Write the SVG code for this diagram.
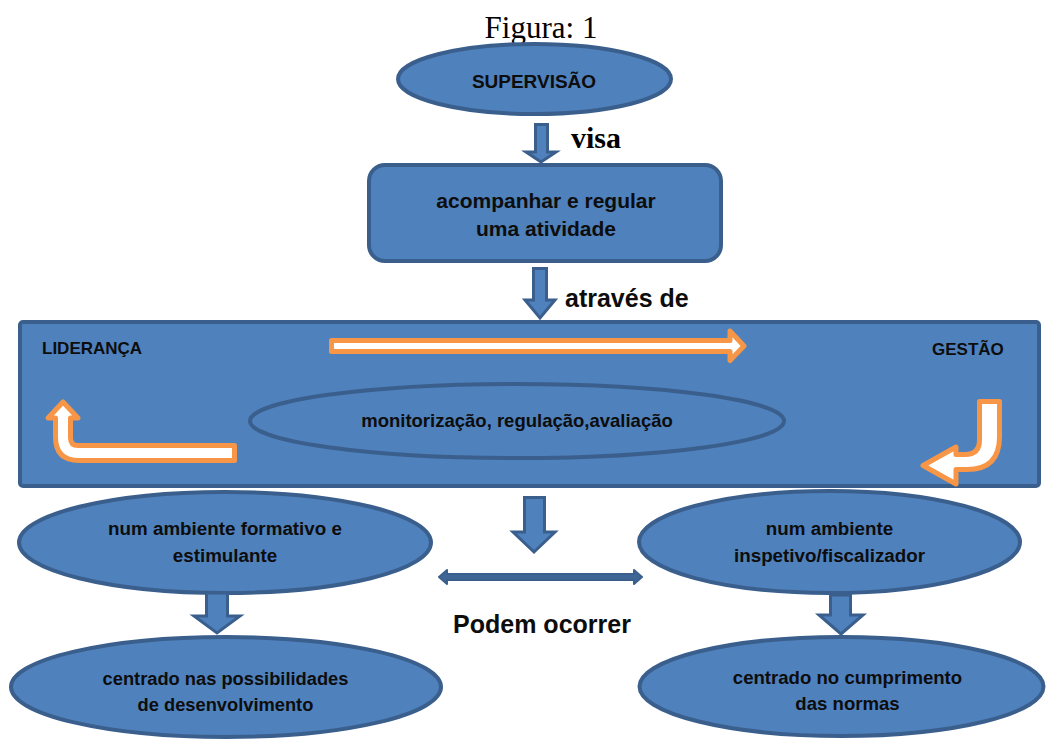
<svg xmlns="http://www.w3.org/2000/svg" width="1046" height="740" viewBox="0 0 1046 740">
<style>
.shape{fill:#4f81bd;stroke:#3a5f8d;stroke-width:4}
.arr{fill:#4f81bd;stroke:#3a5f8d;stroke-width:3;stroke-linejoin:miter}
.oarr{fill:#ffffff;stroke:#f79646;stroke-width:5;stroke-linejoin:round}
.t{font-family:"Liberation Sans",Arial,sans-serif;font-weight:bold;fill:#0d0d0d;text-anchor:middle}
.serif{font-family:"Liberation Serif","Times New Roman",serif;fill:#000}
</style>
<rect width="1046" height="740" fill="#ffffff"/>
<text class="serif" x="541" y="38" font-size="31" text-anchor="middle">Figura: 1</text>

<g id="supervisao">
<ellipse class="shape" cx="534.5" cy="79" rx="136.5" ry="35"/>
<text class="t" x="534" y="88" font-size="19">SUPERVISÃO</text>
</g>

<g id="acompanhar">
<rect class="shape" x="369" y="165" width="352" height="96" rx="16"/>
<text class="t" x="546" y="208" font-size="21">acompanhar e regular</text>
<text class="t" x="546" y="236" font-size="21">uma atividade</text>
</g>

<g id="lideranca-gestao">
<rect class="shape" x="20" y="322" width="1019" height="164" rx="3"/>
<text class="t" x="42" y="354" font-size="17" style="text-anchor:start">LIDERANÇA</text>
<text class="t" x="932" y="355" font-size="17" style="text-anchor:start">GESTÃO</text>
</g>

<g id="monitorizacao">
<ellipse class="shape" cx="517" cy="421" rx="267" ry="37"/>
<text class="t" x="517" y="427" font-size="18.5">monitorização, regulação,avaliação</text>
</g>

<g id="ambiente-formativo">
<ellipse class="shape" cx="225" cy="542.5" rx="206" ry="50.5"/>
<text class="t" x="225" y="535" font-size="18.8">num ambiente formativo e</text>
<text class="t" x="225" y="562" font-size="18.8">estimulante</text>
</g>

<g id="ambiente-inspetivo">
<ellipse class="shape" cx="829.5" cy="542" rx="190.5" ry="51"/>
<text class="t" x="829.5" y="535" font-size="18.8">num ambiente</text>
<text class="t" x="829.5" y="562" font-size="18.8">inspetivo/fiscalizador</text>
</g>

<g id="centrado-possibilidades">
<ellipse class="shape" cx="226" cy="687" rx="215" ry="50"/>
<text class="t" x="225.5" y="685" font-size="18.3">centrado nas possibilidades</text>
<text class="t" x="225.5" y="711" font-size="18.3">de desenvolvimento</text>
</g>

<g id="centrado-normas">
<ellipse class="shape" cx="841.5" cy="686.5" rx="202" ry="49.5"/>
<text class="t" x="847.5" y="684" font-size="18.6">centrado no cumprimento</text>
<text class="t" x="847.5" y="710" font-size="18.6">das normas</text>
</g>

<g id="connectors">
<polygon class="arr" points="535.5,124.5 547.5,124.5 547.5,152 556,152 541,162 526,152 535.5,152"/>
<text class="serif" x="571" y="148" font-size="30" font-weight="bold">visa</text>
<polygon class="arr" points="533.5,268.5 546.5,268.5 546.5,300 555,300 540,318 525,300 533.5,300"/>
<text class="t" x="565" y="307" font-size="25" style="text-anchor:start">através de</text>
<path class="oarr" d="M331.5,340.5 L730,340.5 L730,331 L744,346 L730,360.5 L730,351.5 L331.5,351.5 Z"/>
<path class="oarr" d="M234.5,445.5 L78,445.5 Q70.5,445.5 70.5,438 L70.5,418 L78,418 L63,402 L48,418 L55.5,418 L55.5,437 Q55.5,460.5 79,460.5 L234.5,460.5 Z"/>
<path class="oarr" d="M979.5,401.5 L999.5,401.5 L999.5,437 Q999.5,469.5 967,469.5 L956,469.5 L956,484 L923,465.5 L956,447 L956,454.5 L965,454.5 Q979.5,454.5 979.5,440 Z"/>
<polygon class="arr" points="524.5,497.5 544.5,497.5 544.5,532 555,532 534,552 513,532 524.5,532"/>
<polygon points="439,577 447,570 447,574 634,574 634,570 642,577 634,584 634,580 447,580 447,584" fill="#3f6596" stroke="#3a5f8d" stroke-width="2" stroke-linejoin="round"/>
<text class="t" x="542" y="633" font-size="25">Podem ocorrer</text>
<polygon class="arr" points="206.5,593 227.5,593 227.5,616 240,616 217,633 194,616 206.5,616"/>
<polygon class="arr" points="830.5,595 850.5,595 850.5,615 863,615 841,634 819,615 830.5,615"/>
</g>
</svg>
